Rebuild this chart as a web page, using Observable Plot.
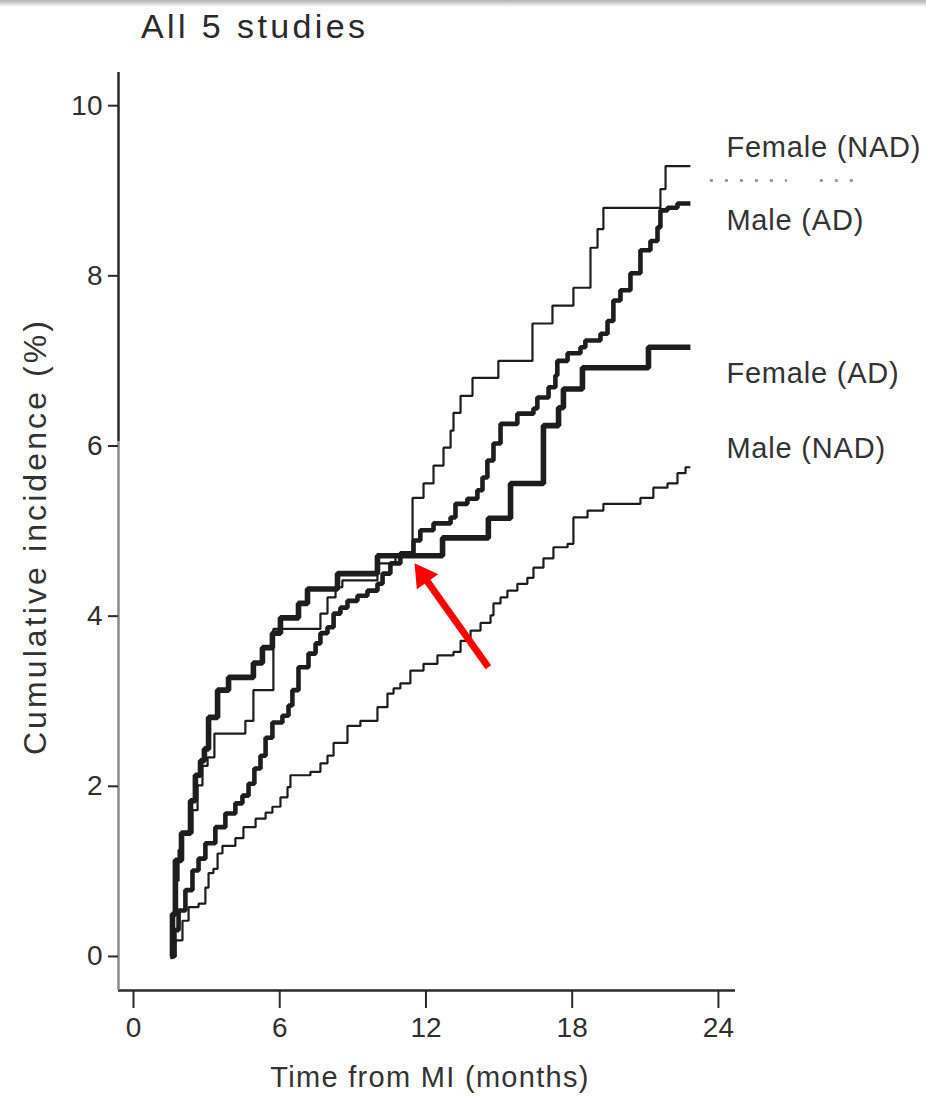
<!DOCTYPE html>
<html><head><meta charset="utf-8">
<script src="https://cdn.jsdelivr.net/npm/d3@7"></script>
<script src="https://cdn.jsdelivr.net/npm/@observablehq/plot@0.6"></script>
<style>
html,body{margin:0;padding:0;background:#fff;}
#wrap{position:relative;width:926px;height:1096px;overflow:hidden;font-family:"Liberation Sans",Arial,sans-serif;}
#chart{position:absolute;left:0;top:0;}
#topbar{position:absolute;left:0;top:0;width:926px;height:7px;background:linear-gradient(#b0b0b0,#ffffff);}
#title{position:absolute;left:141px;top:9px;font-size:34px;line-height:1;color:#2a2a2a;letter-spacing:3.4px;white-space:nowrap;}
</style></head><body>
<div id="wrap"><div id="chart"></div><div id="topbar"></div><div id="title">All 5 studies</div></div>
<script>
// ---- data (months from MI, cumulative incidence %) ----
const femaleNadMonths = [1.52,1.60,1.72,1.85,2.01,2.42,2.63,2.83,3.04,3.32,4.59,4.92,5.74,7.67,7.96,8.29,8.57,10.01,10.75,11.45,11.90,12.31,12.72,13.01,13.13,13.42,13.91,14.97,16.37,17.19,18.05,18.75,19.04,19.28,21.62,21.83,22.85];
const femaleNadPct    = [0,0.48,0.89,1.25,1.45,1.72,2.01,2.24,2.34,2.62,2.77,3.13,3.85,4.03,4.22,4.34,4.42,4.62,4.71,5.39,5.56,5.77,5.98,6.18,6.39,6.59,6.80,7.00,7.44,7.65,7.86,8.33,8.55,8.80,9.02,9.29,9.29];

const femaleAdMonths = [1.52,1.60,1.72,1.97,2.34,2.54,2.75,2.91,3.08,3.45,3.90,4.92,5.29,5.70,6.03,6.77,7.14,8.37,10.01,12.68,14.56,15.47,16.82,17.44,17.64,18.42,21.13,22.85];
const femaleAdPct    = [0,0.50,1.13,1.45,1.83,2.13,2.30,2.44,2.81,3.13,3.28,3.45,3.63,3.80,3.98,4.15,4.32,4.50,4.71,4.92,5.15,5.56,6.24,6.45,6.67,6.92,7.16,7.16];

const maleAdMonths = [1.52,1.68,1.85,2.13,2.42,2.67,2.95,3.36,3.77,4.18,4.47,4.72,4.96,5.21,5.42,5.70,6.11,6.36,6.52,6.77,7.18,7.47,7.67,7.96,8.21,8.49,8.78,9.19,9.60,10.01,10.22,10.54,10.95,11.49,11.77,12.31,13.01,13.21,13.70,14.11,14.32,14.52,14.77,15.06,15.75,16.41,16.57,17.03,17.31,17.39,17.81,18.34,18.54,19.16,19.45,19.69,19.98,20.39,20.80,21.21,21.50,21.62,21.91,22.32,22.85];
const maleAdPct    = [0,0.31,0.54,0.78,1.01,1.15,1.33,1.52,1.68,1.80,1.89,2.03,2.21,2.36,2.57,2.75,2.83,2.95,3.13,3.40,3.56,3.68,3.80,3.87,4.03,4.10,4.18,4.24,4.30,4.38,4.50,4.62,4.74,4.89,5.01,5.09,5.16,5.32,5.38,5.48,5.63,5.83,6.03,6.26,6.38,6.44,6.57,6.69,6.83,7.00,7.09,7.16,7.24,7.32,7.47,7.71,7.83,8.03,8.30,8.41,8.57,8.77,8.80,8.85,8.85];

const maleNadMonths = [1.52,1.72,2.01,2.26,2.67,2.95,3.08,3.28,3.45,3.65,4.18,4.51,5.01,5.42,5.70,6.03,6.32,6.44,7.26,7.67,7.96,8.21,8.78,9.31,10.01,10.42,10.67,10.95,11.36,11.90,12.47,13.13,13.42,13.83,14.24,14.65,14.77,15.06,15.34,15.75,16.16,16.41,16.82,17.23,17.81,18.05,18.63,19.28,20.80,21.33,21.91,22.32,22.65,22.85];
const maleNadPct    = [0,0.19,0.42,0.58,0.62,0.81,0.98,1.03,1.21,1.30,1.39,1.52,1.62,1.69,1.76,1.87,1.99,2.13,2.17,2.27,2.36,2.51,2.71,2.77,2.93,3.09,3.15,3.21,3.36,3.44,3.54,3.58,3.71,3.83,3.92,4.01,4.15,4.22,4.30,4.38,4.45,4.57,4.68,4.81,4.85,5.16,5.24,5.32,5.39,5.51,5.56,5.68,5.75,5.75];

const seriesNames = ["Female (NAD)", "Male (AD)", "Female (AD)", "Male (NAD)"];
const xTicks = [0, 6, 12, 18, 24];
const yTicks = [0, 2, 4, 6, 8, 10];
const xTitle = "Time from MI (months)";
const yTitle = "Cumulative incidence (%)";

// annotation: red arrow (tail -> tip) and legend dots under "Female (NAD)"
const arrowNote = [{x1: 14.56, y1: 3.40, x2: 11.53, y2: 4.62}];
const legendDots = [{y: 9.12, x1: 23.67, x2: 26.83}, {y: 9.12, x1: 28.18, x2: 29.74}];

// ---- build table ----
const build = (name, months, pct) => months.map((m, i) => ({series: name, month: m, pct: pct[i]}));
const series = [
  {name: seriesNames[0], rows: build(seriesNames[0], femaleNadMonths, femaleNadPct), w: 2.2, dy: -18},
  {name: seriesNames[1], rows: build(seriesNames[1], maleAdMonths, maleAdPct),       w: 4.6, dy: 17},
  {name: seriesNames[2], rows: build(seriesNames[2], femaleAdMonths, femaleAdPct),   w: 5.6, dy: 26},
  {name: seriesNames[3], rows: build(seriesNames[3], maleNadMonths, maleNadPct),     w: 2.2, dy: -19}
];

const xMin = -0.615, xMax = 24.7, yMin = -0.4, yMax = 10.39;
const ink = "#1d1d1d";

const marks = [
  Plot.ruleY([yMin], {stroke: "#2a2a2a", strokeWidth: 2.5}),
  Plot.ruleX([xMin], {y1: 6.05, y2: yMax, stroke: "#2a2a2a", strokeWidth: 2.5}),
  Plot.ruleX([xMin], {y1: yMin, y2: 6.05, stroke: "#8a8a8a", strokeWidth: 2.5}),
  Plot.axisX({ticks: xTicks, tickSize: 18, tickPadding: 9, label: null, fontSize: 28, stroke: "#2a2a2a", strokeWidth: 2}),
  Plot.axisY({ticks: yTicks, tickSize: 10, tickPadding: 6, label: null, fontSize: 28, stroke: "#2a2a2a", strokeWidth: 2}),
  Plot.text([yTitle], {text: d => d, frameAnchor: "left", textAnchor: "middle", lineAnchor: "middle", dx: -83, dy: 5, rotate: -90, fontSize: 32, fill: "#333"}),
  Plot.text([xTitle], {text: d => d, frameAnchor: "bottom", textAnchor: "middle", lineAnchor: "middle", dx: 3, dy: 87, fontSize: 29, fill: "#333"})
];
for (const s of series) {
  marks.push(Plot.line(s.rows, {x: "month", y: "pct", curve: "step-after", stroke: ink, strokeWidth: s.w, strokeLinejoin: "miter", strokeLinecap: "butt"}));
}
for (const s of series) {
  const last = s.rows[s.rows.length - 1];
  marks.push(Plot.text([last], {x: "month", y: "pct", text: "series", dx: 36, dy: s.dy, textAnchor: "start", fontSize: 29, fill: "#333"}));
}
marks.push(
  Plot.ruleY(legendDots, {y: "y", x1: "x1", x2: "x2", stroke: "#8c8c8c", strokeWidth: 2.5, strokeDasharray: "3,12"}),
  Plot.arrow(arrowNote, {x1: "x1", y1: "y1", x2: "x2", y2: "y2", stroke: "#ff0000", strokeWidth: 7, headLength: 0, insetEnd: 14, strokeLinecap: "butt"}),
  Plot.dot(arrowNote, {x: "x2", y: "y2", symbol: "triangle", r: 9.7, fill: "#ff0000", stroke: "none", rotate: -35, dx: 8.7, dy: 12.2})
);

const chart = Plot.plot({
  width: 926, height: 1096,
  marginLeft: 118, marginRight: 191, marginTop: 72, marginBottom: 106,
  x: {domain: [xMin, xMax]},
  y: {domain: [yMin, yMax]},
  style: {fontFamily: "'Liberation Sans', Arial, sans-serif", color: "#2f2f2f", background: "transparent", overflow: "visible"},
  marks
});
document.getElementById("chart").appendChild(chart);
const texts = d3.select(chart).selectAll("text");
texts.filter(function() { return this.textContent === yTitle; }).style("letter-spacing", "3.1px");
texts.filter(function() { return this.textContent === xTitle; }).style("letter-spacing", "1.3px");
texts.filter(function() { return seriesNames.includes(this.textContent); }).style("letter-spacing", "0.8px");
</script>
</body></html>
